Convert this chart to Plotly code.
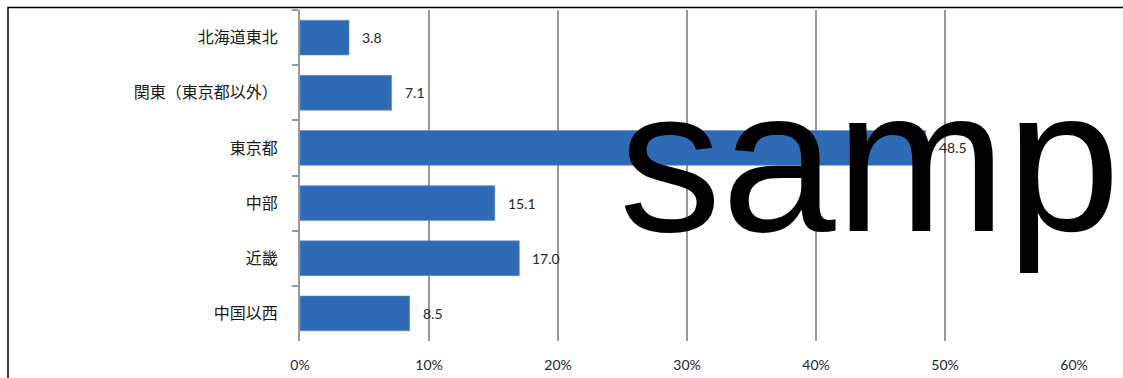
import plotly.graph_objects as go

# Regional share (%), listed top to bottom
regions = ["北海道東北", "関東（東京都以外）", "東京都", "中部", "近畿", "中国以西"]
shares = [3.8, 7.1, 48.5, 15.1, 17.0, 8.5]
x_tickvals = [0, 10, 20, 30, 40, 50, 60]
x_ticktext = ["0%", "10%", "20%", "30%", "40%", "50%", "60%"]

W, H = 1123, 378
ML, MR, MT, MB = 300, 49, 10, 37
PW = W - ML - MR
PH = H - MT - MB

BAR = "#2F6BB5"
GRID = "#9a9a9a"

fig = go.Figure(
    go.Bar(
        x=shares,
        y=regions,
        orientation="h",
        marker=dict(color=BAR, line=dict(color="#5a8ccc", width=0.6)),
        hoverinfo="skip",
    )
)

# value labels to the right of each bar
for r, v in zip(regions, shares):
    fig.add_annotation(
        x=v, y=r, xref="x", yref="y",
        text=f"{v:.1f}",
        showarrow=False, xanchor="left", yanchor="middle",
        xshift=11,
        font=dict(family="Lato", size=14, color="#262626"),
    )

def px_to_paper_x(px):
    return (px - ML) / PW

def px_to_paper_y(py):
    return (H - MB - py) / PH

# outer chart frame (only its top and left edges fall inside the page)
fig.add_shape(
    type="rect", xref="paper", yref="paper",
    x0=px_to_paper_x(8), x1=px_to_paper_x(W + 20),
    y0=px_to_paper_y(H + 20), y1=px_to_paper_y(7.5),
    line=dict(color="black", width=1.5), fillcolor="rgba(0,0,0,0)",
    layer="above",
)

# watermark
fig.add_annotation(
    x=px_to_paper_x(617), y=px_to_paper_y(159), xref="paper", yref="paper",
    text="samp", showarrow=False, xanchor="left", yanchor="middle",
    font=dict(family="Liberation Sans", size=205, color="black"),
)

fig.update_layout(
    width=W, height=H,
    margin=dict(l=ML, r=MR, t=MT, b=MB, autoexpand=False),
    paper_bgcolor="white", plot_bgcolor="white",
    showlegend=False,
    bargap=0.37,
    xaxis=dict(
        range=[0, 60],
        tickvals=x_tickvals, ticktext=x_ticktext,
        showgrid=True, gridcolor=GRID, gridwidth=2,
        zeroline=False, showline=False, ticks="",
        tickfont=dict(family="Lato", size=14, color="#262626"),
        ticklabelstandoff=14,
        fixedrange=True,
    ),
    yaxis=dict(
        categoryorder="array", categoryarray=regions,
        autorange="reversed",
        showline=True, linecolor=GRID, linewidth=2,
        ticks="outside", tickson="boundaries", ticklen=6,
        tickcolor=GRID, tickwidth=2,
        showgrid=False, zeroline=False,
        tickfont=dict(family="Noto Sans CJK JP", size=16, color="#1a1a1a"),
        ticklabelstandoff=17,
        fixedrange=True,
    ),
)

fig.write_html("out.html")
